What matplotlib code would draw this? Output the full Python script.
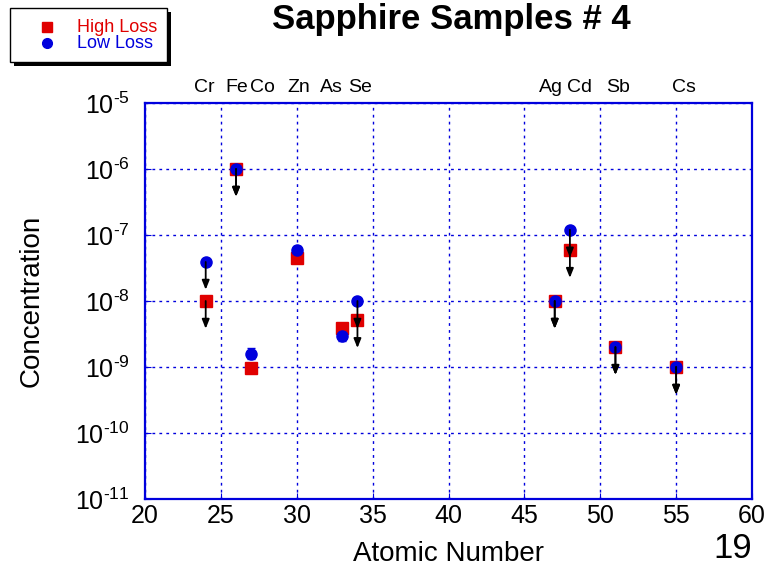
import matplotlib
matplotlib.use('Agg')
import matplotlib.pyplot as plt
from matplotlib.patches import Rectangle
from matplotlib.lines import Line2D

plt.rcParams['font.family'] = ['Liberation Sans', 'DejaVu Sans']
plt.rcParams['mathtext.fontset'] = 'custom'
plt.rcParams['mathtext.rm'] = 'Liberation Sans'

# element labels along the top
elements = ['Cr', 'Fe', 'Co', 'Zn', 'As', 'Se', 'Ag', 'Cd', 'Sb', 'Cs']
z_elem = [24, 26, 27, 30, 33, 34, 47, 48, 51, 55]

# High Loss sample (red squares); True -> upper limit (arrow)
high_z = [24, 26, 27, 30, 33, 34, 47, 48, 51, 55]
high_c = [1e-8, 1e-6, 9.5e-10, 4.5e-8, 3.9e-9, 5.1e-9, 1e-8, 5.9e-8, 2e-9, 1e-9]
high_lim = [True, True, False, False, False, True, True, True, True, True]

# Low Loss sample (blue circles)
low_z = [24, 26, 27, 30, 33, 34, 47, 48, 51, 55]
low_c = [3.9e-8, 1e-6, 1.6e-9, 5.9e-8, 2.9e-9, 1e-8, 1e-8, 1.2e-7, 2e-9, 1e-9]
low_lim = [True, True, False, False, False, True, True, True, True, True]
low_err_lo = [0, 0, 0.3e-9, 0.6e-8, 0.45e-9, 0, 0, 0, 0, 0]
low_err_hi = [0, 0, 0.35e-9, 0.8e-8, 0.45e-9, 0, 0, 0, 0, 0]

RED = '#e00000'
BLUE = '#0000dd'

fig = plt.figure(figsize=(7.66, 5.67), dpi=100)
ax = fig.add_axes([145 / 766, 68 / 567, 607 / 766, 396 / 567])

ax.set_yscale('log')
ax.set_xlim(20, 60)
ax.set_ylim(1e-11, 1e-5)
ax.set_xticks(range(20, 61, 5))
ax.set_yticks([10.0 ** k for k in range(-11, -4)])
ax.set_yticklabels([r'$10^{\text{-}%d}$' % -k for k in range(-11, -4)])
ax.minorticks_off()
ax.grid(True, color=BLUE, linestyle=(0, (2, 3)), linewidth=1)
for s in ax.spines.values():
    s.set_color(BLUE)
    s.set_linewidth(1.6)
ax.tick_params(direction='in', colors=BLUE, labelcolor='black', labelsize=18, length=4)
ax.tick_params(axis='y', pad=11)

def arrows(zs, cs, lims):
    for z, c, lim in zip(zs, cs, lims):
        if lim:
            ax.annotate('', xy=(z, c * 10 ** -0.42), xytext=(z, c),
                        arrowprops=dict(arrowstyle='-|>,head_length=0.55,head_width=0.22',
                                        color='black', lw=1.3, shrinkA=0, shrinkB=0),
                        zorder=5)

ax.plot(high_z, high_c, 's', color=RED, markersize=8, zorder=3)
ax.errorbar(low_z, low_c, yerr=[low_err_lo, low_err_hi], fmt='o', color=BLUE,
            markersize=8, capsize=3, elinewidth=1.2, zorder=4)
arrows(high_z, high_c, high_lim)
arrows(low_z, low_c, low_lim)

# nudge crowded labels apart (atomic-number units)
label_nudge = [-0.1, 0.05, 0.75, 0.15, -0.7, 0.2, -0.25, 0.65, 0.2, 0.5]
for name, z, dz in zip(elements, z_elem, label_nudge):
    ax.annotate(name, xy=(z + dz, 1), xycoords=('data', 'axes fraction'),
                xytext=(0, 11.5), textcoords='offset points',
                ha='center', va='center', fontsize=14)

ax.set_xlabel('Atomic Number', fontsize=20, va='top')
ax.xaxis.set_label_coords(0.5, -(541 - 499) / 396)
ax.set_ylabel('Concentration', fontsize=20)
ax.yaxis.set_label_coords(-(145 - 45) / 607, 0.5)

fig.text(451 / 766, 1 - 19 / 567, 'Sapphire Samples # 4', ha='center', va='center',
         fontsize=25, fontweight='bold')
fig.text(733 / 766, 1 - 549 / 567, '19', ha='center', va='center', fontsize=25)

# legend box with black shadow
W, H = 766, 567
fig.patches.append(Rectangle((14 / W, 1 - 66 / H), 157 / W, 54 / H,
                             transform=fig.transFigure, facecolor='black', zorder=1))
fig.patches.append(Rectangle((10 / W, 1 - 62 / H), 157 / W, 54 / H,
                             transform=fig.transFigure, facecolor='white',
                             edgecolor='black', lw=1, zorder=2))
fig.add_artist(Line2D([47 / W], [1 - 27 / H], marker='s', color=RED, markersize=7,
                      transform=fig.transFigure, zorder=3))
fig.add_artist(Line2D([47 / W], [1 - 43 / H], marker='o', color=BLUE, markersize=7,
                      transform=fig.transFigure, zorder=3))
fig.text(77 / W, 1 - 27 / H, 'High Loss', color=RED, fontsize=13, va='center', zorder=3)
fig.text(77 / W, 1 - 43 / H, 'Low Loss', color=BLUE, fontsize=13, va='center', zorder=3)

fig.savefig('out.png', dpi=100)
